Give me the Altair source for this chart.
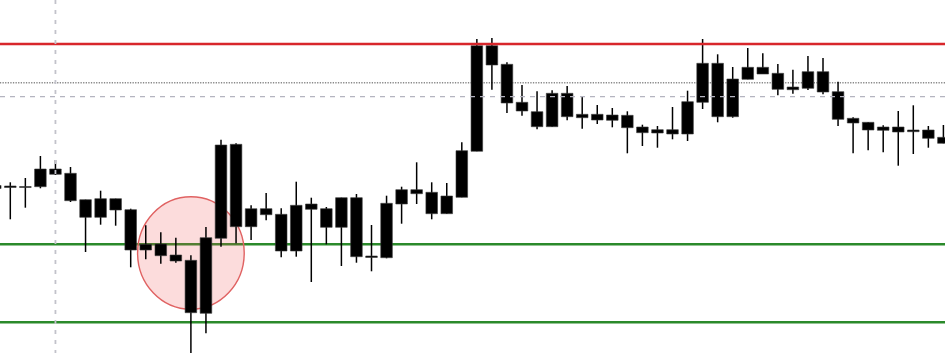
import altair as alt
import pandas as pd

# OHLC bars (one per period)
opens = [1.18145, 1.18140, 1.18125, 1.18133, 1.18310, 1.18267, 1.18003, 1.17827, 1.18013, 1.17903,
         1.17500, 1.17560, 1.17450, 1.17397, 1.16867, 1.17617, 1.18557, 1.17733, 1.17913, 1.17857,
         1.17490, 1.17960, 1.17913, 1.17727, 1.18023, 1.17425, 1.17423, 1.17960, 1.18103, 1.18077,
         1.17863, 1.18027, 1.18487, 1.19543, 1.19357, 1.18977, 1.18883, 1.18733, 1.19067, 1.18857,
         1.18857, 1.18850, 1.18847, 1.18730, 1.18703, 1.18660, 1.18660, 1.18977, 1.19367, 1.18833,
         1.19207, 1.19327, 1.19267, 1.19103, 1.19117, 1.19283, 1.19083, 1.18817, 1.18777, 1.18730,
         1.18730, 1.18700, 1.18700, 1.18627]
highs = [1.18170, 1.18177, 1.18220, 1.18440, 1.18400, 1.18330, 1.18003, 1.18093, 1.18013, 1.17913,
         1.17747, 1.17677, 1.17623, 1.17447, 1.17730, 1.18603, 1.18567, 1.17947, 1.18070, 1.17917,
         1.18183, 1.18023, 1.17930, 1.18023, 1.18060, 1.17750, 1.18043, 1.18133, 1.18377, 1.18177,
         1.18170, 1.18577, 1.19610, 1.19620, 1.19377, 1.19150, 1.19087, 1.19097, 1.19140, 1.19030,
         1.18950, 1.18920, 1.18887, 1.18753, 1.18740, 1.18930, 1.19093, 1.19610, 1.19457, 1.19330,
         1.19520, 1.19467, 1.19360, 1.19303, 1.19440, 1.19420, 1.19183, 1.18827, 1.18777, 1.18747,
         1.18890, 1.18947, 1.18740, 1.18750]
lows = [1.18100, 1.17807, 1.17923, 1.18117, 1.18250, 1.17980, 1.17480, 1.17753, 1.17743, 1.17327,
        1.17407, 1.17363, 1.17373, 1.16440, 1.16667, 1.17533, 1.17567, 1.17600, 1.17797, 1.17427,
        1.17433, 1.17180, 1.17557, 1.17340, 1.17373, 1.17287, 1.17417, 1.17763, 1.17960, 1.17807,
        1.17863, 1.18027, 1.18487, 1.19103, 1.18870, 1.18843, 1.18707, 1.18733, 1.18797, 1.18713,
        1.18760, 1.18727, 1.18467, 1.18540, 1.18523, 1.18607, 1.18590, 1.18910, 1.18777, 1.18823,
        1.19207, 1.19260, 1.19047, 1.19063, 1.19100, 1.19057, 1.18740, 1.18467, 1.18497, 1.18477,
        1.18343, 1.18460, 1.18523, 1.18567]
closes = [1.18115, 1.18125, 1.18135, 1.18310, 1.18257, 1.17993, 1.17827, 1.18013, 1.17900, 1.17500,
          1.17557, 1.17443, 1.17390, 1.16873, 1.17623, 1.18550, 1.17733, 1.17913, 1.17853, 1.17490,
          1.17947, 1.17907, 1.17727, 1.18023, 1.17433, 1.17440, 1.17967, 1.18103, 1.18063, 1.17863,
          1.18040, 1.18493, 1.19543, 1.19350, 1.18970, 1.18890, 1.18733, 1.19067, 1.18833, 1.18823,
          1.18800, 1.18797, 1.18723, 1.18673, 1.18670, 1.18703, 1.18983, 1.19367, 1.18833, 1.19210,
          1.19327, 1.19260, 1.19107, 1.19130, 1.19283, 1.19080, 1.18807, 1.18770, 1.18700, 1.18697,
          1.18680, 1.18683, 1.18617, 1.18567]
bar_index = list(range(len(opens)))

# Horizontal levels
resistance = 1.19560
dotted_level = 1.19173
dashed_level = 1.19033
supports = [1.17557, 1.16777]
# Vertical marker bar and highlighted zone
marker_bar = 4
zone_bar = 13
zone_price = 1.17470

df = pd.DataFrame({"i": bar_index, "open": opens, "high": highs, "low": lows, "close": closes})

x_scale = alt.Scale(domain=[0.3156, 63.106], nice=False, zero=False, padding=0)
y_scale = alt.Scale(domain=[1.1647, 1.2000], nice=False, zero=False, padding=0)
X = lambda f: alt.X(f, type="quantitative", scale=x_scale, axis=None)
Y = lambda f: alt.Y(f, type="quantitative", scale=y_scale, axis=None)

sup_df = pd.DataFrame({"level": supports})
support_lines = alt.Chart(sup_df).mark_rule(
    color="#2b8a2b", strokeWidth=2.6, clip=True).encode(y=Y("level"))

dotted = alt.Chart(pd.DataFrame({"level": [dotted_level]})).mark_rule(
    color="#8a8a8a", strokeWidth=1.4, strokeDash=[1.3, 1.3], clip=True).encode(y=Y("level"))

ellipse_path = "M -0.947 0 A 0.947 1 0 1 0 0.947 0 A 0.947 1 0 1 0 -0.947 0 Z"
zone = alt.Chart(pd.DataFrame({"i": [zone_bar], "p": [zone_price]})).mark_point(
    shape=ellipse_path, size=12679, filled=True, fill="#f05050", fillOpacity=0.2,
    stroke="#e06262", strokeWidth=1.4, strokeOpacity=1, opacity=1, clip=True
).encode(x=X("i"), y=Y("p"))

wicks = alt.Chart(df).mark_rule(color="#000000", strokeWidth=1.5, clip=True).encode(
    x=X("i"), y=Y("low"), y2="high")
bodies = alt.Chart(df).mark_bar(
    size=11.6, color="#000000", stroke="#3a3a3a", strokeWidth=0.6, clip=True
).encode(x=X("i"), y=Y("open"), y2="close")

red_line = alt.Chart(pd.DataFrame({"level": [resistance]})).mark_rule(
    color="#d8262b", strokeWidth=2.6, clip=True).encode(y=Y("level"))
dashed = alt.Chart(pd.DataFrame({"level": [dashed_level]})).mark_rule(
    color="#b4b4c0", strokeWidth=1.3, strokeDash=[5, 5], clip=True).encode(y=Y("level"))
vline = alt.Chart(pd.DataFrame({"i": [marker_bar]})).mark_rule(
    color="#c2c2ca", strokeWidth=1.8, strokeDash=[4, 6], clip=True).encode(x=X("i"))

chart = alt.layer(
    support_lines, dotted, zone, wicks, bodies, red_line, dashed, vline
).properties(
    width=945, height=353, padding=0, autosize=alt.AutoSizeParams(type="none")
).configure_view(stroke=None)

chart.save("out.html", embed_options={"renderer": "svg", "actions": False})
